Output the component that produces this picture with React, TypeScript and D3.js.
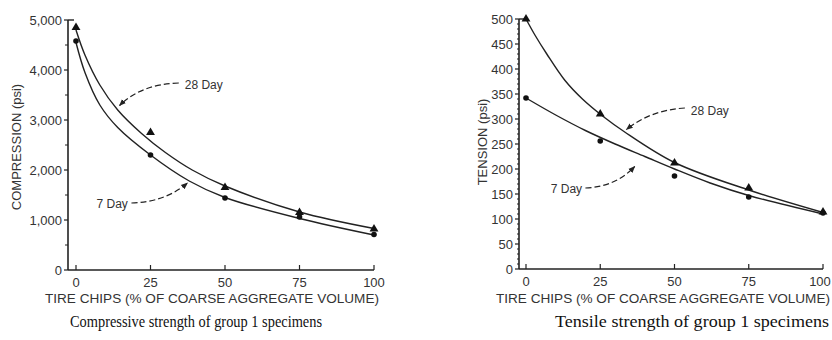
import React from "react";
import * as d3 from "d3";

// ---------- data ----------
const xTickValues = [0, 25, 50, 75, 100];

// Compressive strength (psi)
const compPointX = [0, 25, 50, 75, 100];
const comp28Points = [4850, 2750, 1650, 1150, 820];
const comp7Points = [4580, 2300, 1440, 1060, 710];
const comp28FitX = [0, 3, 8, 14, 22, 30, 39, 50, 75, 100];
const comp28Fit = [4800, 4300, 3700, 3200, 2730, 2350, 2000, 1680, 1160, 830];
const comp7FitX = [0, 3, 8, 14, 25, 38, 50, 75, 100];
const comp7Fit = [4550, 3950, 3300, 2850, 2300, 1780, 1450, 1030, 700];
const compMajorTicks = [0, 1000, 2000, 3000, 4000, 5000];
const compMinorTicks = [500, 1500, 2500, 3500, 4500];
const compTickLabels = ["0", "1,000", "2,000", "3,000", "4,000", "5,000"];

// Tensile strength (psi)
const tensPointX = [0, 25, 50, 75, 100];
const tens28Points = [500, 310, 212, 162, 114];
const tens7Points = [342, 256, 186, 144, 112];
const tens28FitX = [0, 3, 7, 13, 19, 26, 33, 50, 75, 100];
const tens28Fit = [500, 468, 430, 378, 340, 305, 275, 213, 158, 113];
const tens7FitX = [0, 10, 20, 30, 40, 50, 62, 75, 100];
const tens7Fit = [342, 308, 277, 250, 225, 200, 172, 147, 110];
const tensMajorTicks = [0, 50, 100, 150, 200, 250, 300, 350, 400, 450, 500];
const tensMinorTicks = d3.range(10, 500, 10).filter((v) => v % 50 !== 0);

const xAxisTitle = "TIRE CHIPS (% OF COARSE AGGREGATE VOLUME)";

const INK = "#222";
const TXT = "#333";
const W = 832;

type Ann = { text: string; tx: number; ty: number; anchor: "start" | "end"; from: [number, number]; ctrl: [number, number]; to: [number, number] };

type PanelProps = {
  x0: number; x1: number; yTop: number; yBot: number; axisX: number;
  yMax: number; majors: number[]; minors: number[]; labels: string[];
  yTitle: string; yTitleX: number; yTitleY: number;
  fit28X: number[]; fit28: number[]; fit7X: number[]; fit7: number[];
  ptX: number[]; p28: number[]; p7: number[];
  anns: Ann[]; caption: string; captionX: number; captionLen: number;
  xTitleX: number; id: string; minorLen: number;
};

function Panel(p: PanelProps) {
  const x = d3.scaleLinear().domain([0, 100]).range([p.x0, p.x1]);
  const y = d3.scaleLinear().domain([0, p.yMax]).range([p.yBot, p.yTop]);
  const line = d3
    .line<[number, number]>()
    .x((d) => x(d[0]))
    .y((d) => y(d[1]))
    .curve(d3.curveCatmullRom.alpha(0.5));
  const path28 = line(p.fit28X.map((v, i) => [v, p.fit28[i]]))!;
  const path7 = line(p.fit7X.map((v, i) => [v, p.fit7[i]]))!;
  const tri = d3.symbol().type(d3.symbolTriangle).size(34)()!;
  return (
    <g>
      {/* y axis */}
      <line x1={p.axisX} x2={p.axisX} y1={y(p.yMax)} y2={y(0)} stroke={INK} strokeWidth={1.6} />
      <line x1={p.axisX} x2={p.axisX + 6} y1={y(p.yMax)} y2={y(p.yMax)} stroke={INK} strokeWidth={1.4} />
      {p.majors.map((v, i) => (
        <g key={"m" + v}>
          <line x1={p.axisX - 4} x2={p.axisX} y1={y(v)} y2={y(v)} stroke={INK} strokeWidth={1.2} />
          <text x={p.axisX - 6} y={y(v) + 4.5} textAnchor="end" fontSize={13} fill={TXT} fontFamily="Liberation Sans, Arial, sans-serif">
            {p.labels[i]}
          </text>
        </g>
      ))}
      {p.minors.map((v) => (
        <line key={"n" + v} x1={p.axisX - p.minorLen} x2={p.axisX} y1={y(v)} y2={y(v)} stroke={INK} strokeWidth={1} />
      ))}
      <text
        transform={`translate(${p.yTitleX},${p.yTitleY}) rotate(-90)`}
        textAnchor="middle"
        fontSize={13}
        fill={TXT}
        fontFamily="Liberation Sans, Arial, sans-serif"
      >
        {p.yTitle}
      </text>
      {/* x axis */}
      <line x1={p.axisX} x2={x(100)} y1={y(0)} y2={y(0)} stroke={INK} strokeWidth={1.6} />
      {xTickValues.map((v) => (
        <g key={"x" + v}>
          <line x1={x(v)} x2={x(v)} y1={y(0)} y2={y(0) - 5} stroke={INK} strokeWidth={1.2} />
          <text x={Math.min(x(v), W - 12)} y={y(0) + 17} textAnchor="middle" fontSize={13} fill={TXT} fontFamily="Liberation Sans, Arial, sans-serif">
            {v}
          </text>
        </g>
      ))}
      <text
        x={p.xTitleX}
        y={303}
        fontSize={12.5}
        fill={TXT}
        textLength={334}
        lengthAdjust="spacingAndGlyphs"
        fontFamily="Liberation Sans, Arial, sans-serif"
      >
        {xAxisTitle}
      </text>
      <text
        x={p.captionX}
        y={327}
        fontSize={17}
        fill="#111"
        textLength={p.captionLen}
        lengthAdjust="spacingAndGlyphs"
        fontFamily="Liberation Serif, Times New Roman, serif"
      >
        {p.caption}
      </text>
      {/* curves */}
      <path d={path28} fill="none" stroke={INK} strokeWidth={1.4} />
      <path d={path7} fill="none" stroke={INK} strokeWidth={1.4} />
      {/* points */}
      {p.ptX.map((v, i) => (
        <path key={"t" + v} d={tri} transform={`translate(${x(v)},${y(p.p28[i])})`} fill="#111" />
      ))}
      {p.ptX.map((v, i) => (
        <circle key={"c" + v} cx={x(v)} cy={y(p.p7[i])} r={2.8} fill="#111" />
      ))}
      {/* annotations */}
      {p.anns.map((a, i) => {
        const path = d3.path();
        path.moveTo(x(a.from[0]), y(a.from[1]));
        path.quadraticCurveTo(x(a.ctrl[0]), y(a.ctrl[1]), x(a.to[0]), y(a.to[1]));
        return (
          <g key={"a" + i}>
            <path
              d={path.toString()}
              fill="none"
              stroke={INK}
              strokeWidth={1.2}
              strokeDasharray="6,3"
              markerEnd={`url(#arrow-${p.id})`}
            />
            <text x={x(a.tx)} y={y(a.ty)} textAnchor={a.anchor} fontSize={12} fill={TXT} fontFamily="Liberation Sans, Arial, sans-serif">
              {a.text}
            </text>
          </g>
        );
      })}
    </g>
  );
}

export default function App() {
  return (
    <svg width={W} height={340} style={{ position: "absolute", left: 0, top: 0, background: "#fff" }}>
      <defs>
        {["l", "r"].map((id) => (
          <marker key={id} id={`arrow-${id}`} viewBox="0 0 10 10" refX={9} refY={5} markerWidth={7} markerHeight={7} orient="auto" markerUnits="userSpaceOnUse">
            <path d="M0,1 L10,5 L0,9 Z" fill={INK} />
          </marker>
        ))}
      </defs>
      <Panel
        id="l"
        x0={76}
        x1={374}
        yTop={20}
        yBot={270}
        axisX={68}
        yMax={5000}
        majors={compMajorTicks}
        minors={compMinorTicks}
        labels={compTickLabels}
        minorLen={3}
        yTitle="COMPRESSION (psi)"
        yTitleX={21}
        yTitleY={147}
        fit28X={comp28FitX}
        fit28={comp28Fit}
        fit7X={comp7FitX}
        fit7={comp7Fit}
        ptX={compPointX}
        p28={comp28Points}
        p7={comp7Points}
        anns={[
          { text: "28 Day", tx: 36.5, ty: 3620, anchor: "start", from: [34.5, 3740], ctrl: [22, 3720], to: [14.6, 3290] },
          { text: "7 Day", tx: 17.4, ty: 1250, anchor: "end", from: [18.6, 1340], ctrl: [30, 1360], to: [37.4, 1740] },
        ]}
        caption="Compressive strength of group 1 specimens"
        captionX={70}
        captionLen={252}
        xTitleX={45}
      />
      <Panel
        id="r"
        x0={526}
        x1={823}
        yTop={19}
        yBot={269}
        axisX={519}
        yMax={500}
        majors={tensMajorTicks}
        minors={tensMinorTicks}
        labels={tensMajorTicks.map(String)}
        minorLen={2}
        yTitle="TENSION (psi)"
        yTitleX={487}
        yTitleY={142}
        fit28X={tens28FitX}
        fit28={tens28Fit}
        fit7X={tens7FitX}
        fit7={tens7Fit}
        ptX={tensPointX}
        p28={tens28Points}
        p7={tens7Points}
        anns={[
          { text: "28 Day", tx: 55.5, ty: 308, anchor: "start", from: [53.5, 322], ctrl: [42, 318], to: [33.8, 279] },
          { text: "7 Day", tx: 18.9, ty: 152, anchor: "end", from: [20, 162], ctrl: [30, 164], to: [36.6, 205] },
        ]}
        caption="Tensile strength of group 1 specimens"
        captionX={555}
        captionLen={274}
        xTitleX={496}
      />
    </svg>
  );
}
